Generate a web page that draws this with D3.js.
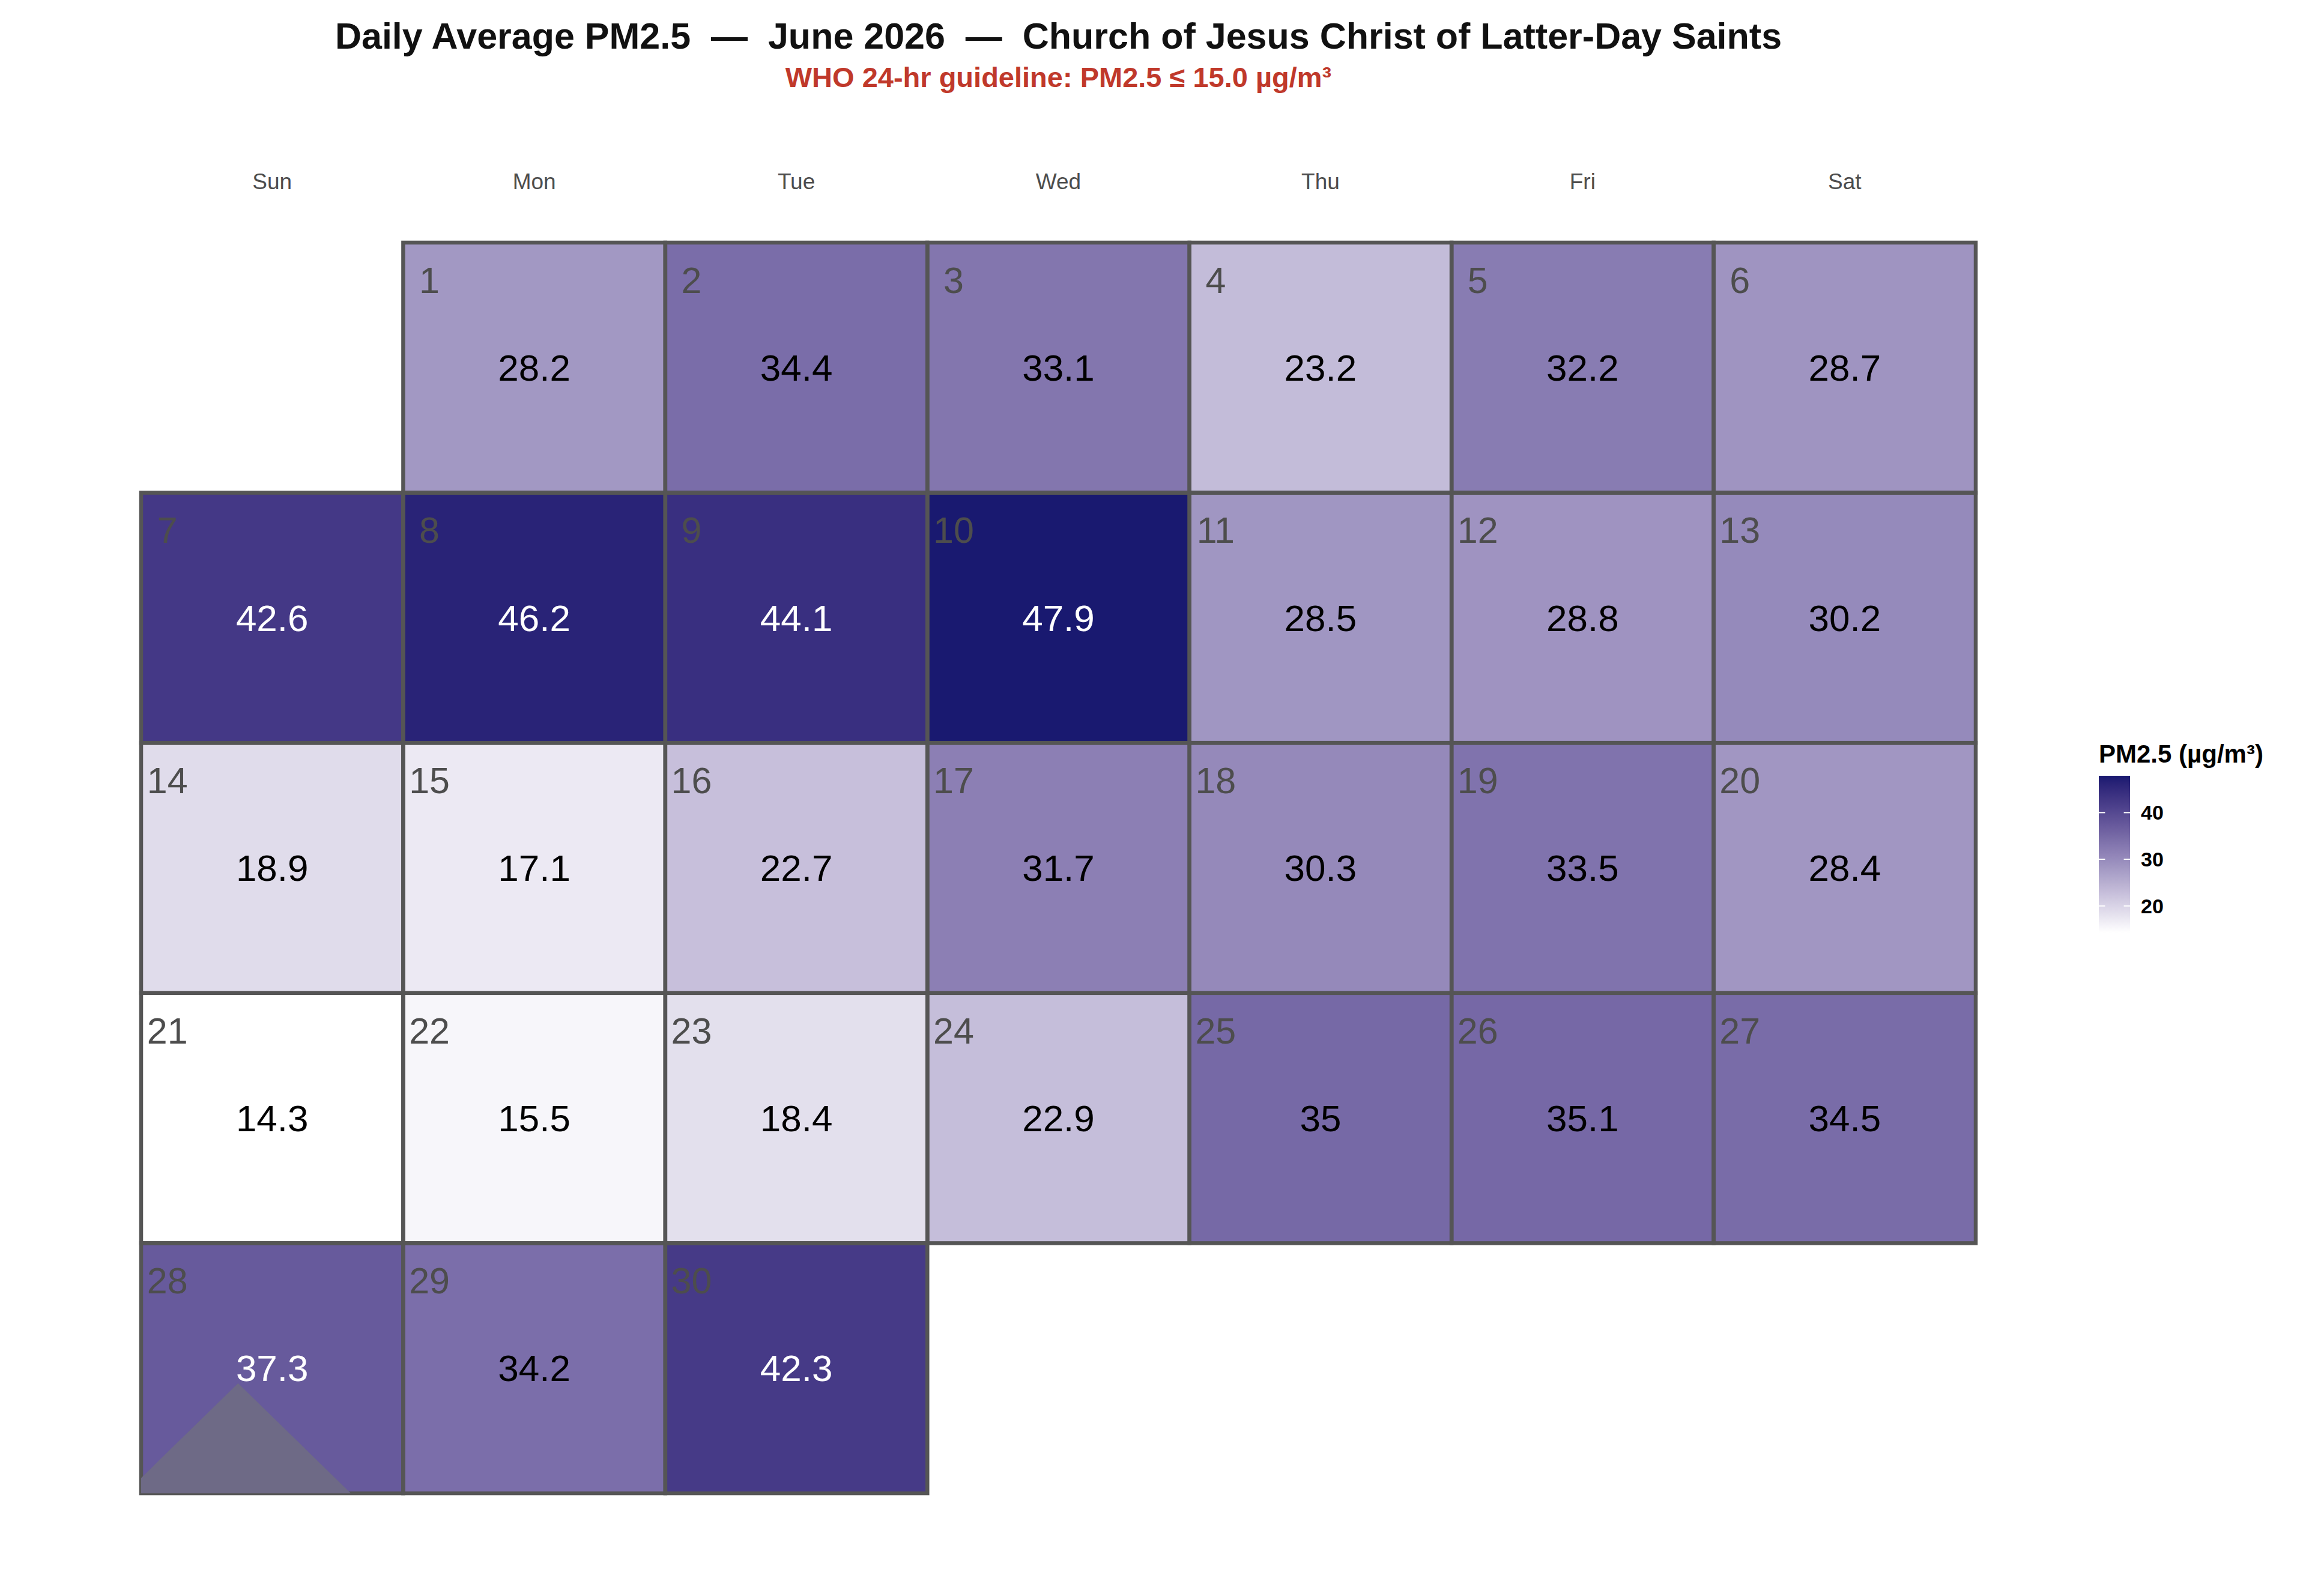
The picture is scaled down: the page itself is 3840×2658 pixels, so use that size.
<!DOCTYPE html>
<html>
<head>
<meta charset="utf-8">
<script src="https://cdn.jsdelivr.net/npm/d3@7"></script>
<style>
  html, body { margin: 0; padding: 0; background: #ffffff; }
  svg text { font-family: "Liberation Sans", Arial, sans-serif; white-space: pre; }
</style>
</head>
<body>
<div id="chart"></div>
<script>
(() => {

// ---- data ----
const YEAR = 2026;
const MONTH = 5; // June (0-based)
const pm25 = [
  28.2, 34.4, 33.1, 23.2, 32.2, 28.7,
  42.6, 46.2, 44.1, 47.9, 28.5, 28.8, 30.2,
  18.9, 17.1, 22.7, 31.7, 30.3, 33.5, 28.4,
  14.3, 15.5, 18.4, 22.9, 35.0, 35.1, 34.5,
  37.3, 34.2, 42.3
];
const weekdayLabels = ['Sun', 'Mon', 'Tue', 'Wed', 'Thu', 'Fri', 'Sat'];
const legendTicks = [20, 30, 40];
const flaggedDays = [28];

const titleText = 'Daily Average PM2.5  \u2014  June 2026  \u2014  Church of Jesus Christ of Latter-Day Saints';
const subtitleText = 'WHO 24-hr guideline: PM2.5 \u2264 15.0 \u00b5g/m\u00b3';
const legendTitle = 'PM2.5 (\u00b5g/m\u00b3)';

const config = {
  width: 3840,
  height: 2658,
  gridLeft: 235,
  gridRight: 3290,
  gridTop: 404,
  gridBottom: 2487,
  cellStroke: '#555555',
  cellStrokeWidth: 6.5,
  lowColor: '#ffffff',
  highColor: '#191970',
  dayColor: '#4d4d4d',
  textDarkLimit: 36,
  legendX: 3495,
  legendW: 52,
  legendTop: 1292,
  legendBottom: 1553
};

// build the cell records from the dates
const firstDow = new Date(YEAR, MONTH, 1).getDay();
const cells = pm25.map((v, i) => {
  const slot = firstDow + i;
  return { day: i + 1, value: v, col: slot % 7, row: Math.floor(slot / 7) };
});
const nRows = d3.max(cells, d => d.row) + 1;

const svg = d3.select('#chart')
  .append('svg')
  .attr('width', config.width)
  .attr('height', config.height);

svg.append('rect')
  .attr('width', config.width)
  .attr('height', config.height)
  .attr('fill', '#ffffff');

const scaleX = d3.scaleBand()
  .domain(d3.range(7))
  .range([config.gridLeft, config.gridRight]);

const scaleY = d3.scaleBand()
  .domain(d3.range(nRows))
  .range([config.gridTop, config.gridBottom]);

const valueExtent = d3.extent(pm25);
const color = d3.scaleLinear()
  .domain(valueExtent)
  .range([config.lowColor, config.highColor])
  .interpolate(d3.interpolateLab);

const bw = scaleX.bandwidth();
const bh = scaleY.bandwidth();

// titles
const midX = (config.gridLeft + config.gridRight) / 2;
svg.append('text')
  .attr('x', midX)
  .attr('y', 81)
  .attr('text-anchor', 'middle')
  .style('font-size', '61px')
  .style('font-weight', 700)
  .style('fill', '#111111')
  .text(titleText);

svg.append('text')
  .attr('x', midX)
  .attr('y', 145)
  .attr('text-anchor', 'middle')
  .style('font-size', '47px')
  .style('font-weight', 700)
  .style('fill', '#c0392b')
  .text(subtitleText);

// weekday header
svg.selectAll('.dow')
  .data(weekdayLabels)
  .enter()
  .append('text')
  .attr('class', 'dow')
  .attr('x', (d, i) => scaleX(i) + bw / 2)
  .attr('y', 315)
  .attr('text-anchor', 'middle')
  .style('font-size', '37px')
  .style('fill', config.dayColor)
  .text(d => d);

// cells
const cellG = svg.append('g');
cellG.selectAll('rect')
  .data(cells)
  .enter()
  .append('rect')
  .attr('x', d => scaleX(d.col))
  .attr('y', d => scaleY(d.row))
  .attr('width', bw)
  .attr('height', bh)
  .attr('fill', d => color(d.value));

// flagged day marker (grey triangle, clipped to the panel)
svg.append('clipPath')
  .attr('id', 'panel-clip')
  .append('rect')
  .attr('x', config.gridLeft)
  .attr('y', config.gridTop)
  .attr('width', config.gridRight - config.gridLeft)
  .attr('height', config.gridBottom - config.gridTop);

const flagged = cells.filter(d => flaggedDays.includes(d.day));
svg.append('g')
  .attr('clip-path', 'url(#panel-clip)')
  .selectAll('path')
  .data(flagged)
  .enter()
  .append('path')
  .attr('d', d => {
    const cx = scaleX(d.col) + 0.37 * bw;
    const top = scaleY(d.row) + 0.56 * bh;
    const base = scaleY(d.row) + bh;
    const half = 0.43 * bw;
    return `M${cx},${top}L${cx + half},${base}L${cx - half},${base}Z`;
  })
  .attr('fill', '#6e6a86');

// cell borders on top
cellG.selectAll('.cell-border')
  .data(cells)
  .enter()
  .append('rect')
  .attr('class', 'cell-border')
  .attr('x', d => scaleX(d.col))
  .attr('y', d => scaleY(d.row))
  .attr('width', bw)
  .attr('height', bh)
  .attr('fill', 'none')
  .attr('stroke', config.cellStroke)
  .attr('stroke-width', config.cellStrokeWidth);

// day numbers
svg.selectAll('.day-num')
  .data(cells)
  .enter()
  .append('text')
  .attr('class', 'day-num')
  .attr('x', d => scaleX(d.col) + 0.1 * bw)
  .attr('y', d => scaleY(d.row) + 0.15 * bh)
  .attr('dy', '0.35em')
  .attr('text-anchor', 'middle')
  .style('font-size', '61px')
  .style('fill', config.dayColor)
  .text(d => d.day);

// values
svg.selectAll('.val')
  .data(cells)
  .enter()
  .append('text')
  .attr('class', 'val')
  .attr('x', d => scaleX(d.col) + bw / 2)
  .attr('y', d => scaleY(d.row) + bh / 2)
  .attr('dy', '0.35em')
  .attr('text-anchor', 'middle')
  .style('font-size', '62px')
  .style('fill', d => d.value > config.textDarkLimit ? '#ffffff' : '#000000')
  .text(d => d3.format('~g')(d.value));

// legend
const legendScale = d3.scaleLinear()
  .domain(valueExtent)
  .range([config.legendBottom, config.legendTop]);

const grad = svg.append('defs')
  .append('linearGradient')
  .attr('id', 'legend-grad')
  .attr('x1', 0).attr('y1', 1)
  .attr('x2', 0).attr('y2', 0);
d3.range(0, 1.0001, 0.05).forEach(t => {
  grad.append('stop')
    .attr('offset', t)
    .attr('stop-color', color(valueExtent[0] + t * (valueExtent[1] - valueExtent[0])));
});

svg.append('text')
  .attr('x', config.legendX)
  .attr('y', 1270)
  .style('font-size', '42px')
  .style('font-weight', 700)
  .style('fill', '#000000')
  .text(legendTitle);

svg.append('rect')
  .attr('x', config.legendX)
  .attr('y', config.legendTop)
  .attr('width', config.legendW)
  .attr('height', config.legendBottom - config.legendTop)
  .attr('fill', 'url(#legend-grad)');

const tickLen = config.legendW / 5;
legendTicks.forEach(t => {
  const y = legendScale(t);
  svg.append('line')
    .attr('x1', config.legendX).attr('x2', config.legendX + tickLen)
    .attr('y1', y).attr('y2', y)
    .attr('stroke', '#ffffff').attr('stroke-width', 2);
  svg.append('line')
    .attr('x1', config.legendX + config.legendW - tickLen).attr('x2', config.legendX + config.legendW)
    .attr('y1', y).attr('y2', y)
    .attr('stroke', '#ffffff').attr('stroke-width', 2);
  svg.append('text')
    .attr('x', config.legendX + config.legendW + 18)
    .attr('y', y)
    .attr('dy', '0.35em')
    .style('font-size', '34px')
    .style('font-weight', 700)
    .style('fill', '#000000')
    .text(t);
});

})();
</script>
</body>
</html>
